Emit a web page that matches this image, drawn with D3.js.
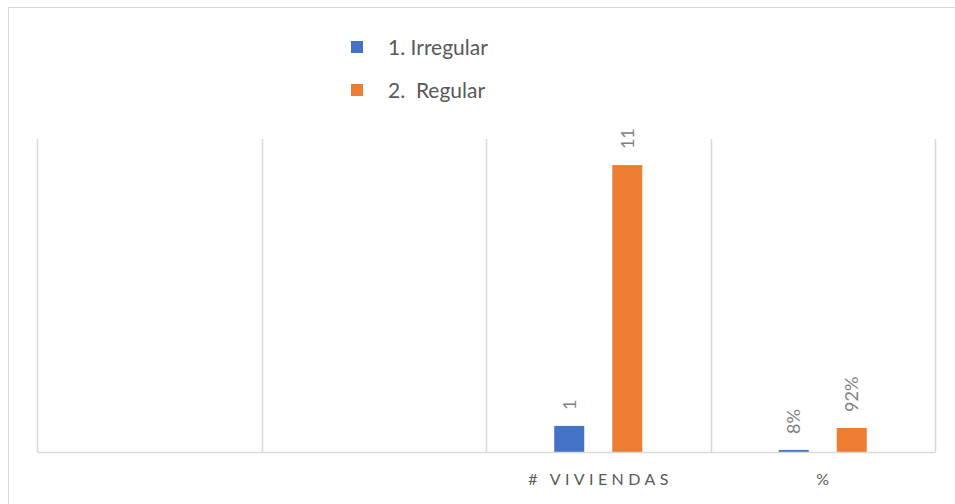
<!DOCTYPE html>
<html>
<head>
<meta charset="utf-8">
<script src="https://cdn.jsdelivr.net/npm/d3@7"></script>
<style>
  html, body { margin: 0; padding: 0; background: #fff; }
  svg { display: block; }
  text { font-family: Lato, "Open Sans", "Liberation Sans", sans-serif; }
</style>
</head>
<body>
<svg id="chart" width="955" height="504"></svg>
<script>
// Categories along the horizontal axis (the first two slots are blank)
const categories = ["", "", "# VIVIENDAS", "%"];
// Series names and colours
const seriesNames = ["1. Irregular", "2.  Regular"];
const seriesColors = ["#4472C4", "#ED7D31"];
// Values per category for each series (null = no bar)
const irregularValues = [null, null, 1, 0.08];
const regularValues = [null, null, 11, 0.92];
// Value axis extent
const yMax = 12;

const seriesValues = [irregularValues, regularValues];

const svg = d3.select("#chart");

// outer chart frame
svg.append("rect")
  .attr("x", 8.5).attr("y", 7.5)
  .attr("width", 980).attr("height", 520)
  .attr("fill", "#fff")
  .attr("stroke", "#d9d9d9").attr("stroke-width", 1);

const plot = { left: 37, right: 935, top: 139, bottom: 452 };

const x = d3.scaleBand()
  .domain(d3.range(categories.length))
  .range([plot.left, plot.right])
  .padding(0);

const groupWidth = 88;
const xSeries = d3.scaleBand()
  .domain(d3.range(seriesNames.length))
  .range([-groupWidth / 2, groupWidth / 2])
  .paddingInner(0.483)
  .paddingOuter(0);

const y = d3.scaleLinear()
  .domain([0, yMax])
  .range([plot.bottom, plot.top]);

// vertical category dividers
const dividers = d3.range(categories.length + 1).map(i =>
  i < categories.length ? x(i) : x(categories.length - 1) + x.bandwidth());
svg.append("g").selectAll("line")
  .data(dividers)
  .join("line")
  .attr("x1", d => Math.round(d) + 0.5).attr("x2", d => Math.round(d) + 0.5)
  .attr("y1", y(yMax)).attr("y2", y(0))
  .attr("stroke", "#d9d9d9").attr("stroke-width", 1.5);

// bars
const barData = [];
seriesValues.forEach((vals, s) => {
  vals.forEach((v, c) => {
    if (v != null) barData.push({ s, c, v });
  });
});

const barX = d => x(d.c) + x.bandwidth() / 2 + xSeries(d.s);

svg.append("g").selectAll("rect")
  .data(barData)
  .join("rect")
  .attr("x", barX)
  .attr("width", xSeries.bandwidth())
  .attr("y", d => y(d.v))
  .attr("height", d => y(0) - y(d.v))
  .attr("fill", d => seriesColors[d.s]);

// baseline (category axis)
const xAxis = d3.axisBottom(x)
  .tickSize(0)
  .tickPadding(22)
  .tickFormat(i => categories[i]);

const axisG = svg.append("g")
  .attr("transform", `translate(0,${y(0)})`)
  .call(xAxis);
axisG.select(".domain")
  .attr("stroke", "#d9d9d9").attr("stroke-width", 1.5);
axisG.selectAll("text")
  .attr("fill", "#595959")
  .attr("font-size", 16)
  .style("letter-spacing", d => categories[d].length > 1 ? "4.4px" : "0px")
  .attr("dx", d => categories[d].length > 1 ? "2.2px" : "0px");

// data labels, rotated
const labelSize = 18;
const fmtLabel = d => categories[d.c] === "%" ? d3.format(".0%")(d.v) : d3.format("d")(d.v);
svg.append("g").selectAll("text")
  .data(barData)
  .join("text")
  .attr("transform", d => `translate(${barX(d) + xSeries.bandwidth() / 2 + labelSize * 0.36},${y(d.v) - 16}) rotate(-90)`)
  .attr("text-anchor", "start")
  .attr("fill", "#7f7f7f")
  .attr("font-size", labelSize)
  .text(fmtLabel);

// legend
const legend = svg.append("g");
const legendItems = legend.selectAll("g")
  .data(seriesNames)
  .join("g")
  .attr("transform", (d, i) => `translate(351,${41 + i * 43})`);
legendItems.append("rect")
  .attr("width", 12).attr("height", 12)
  .attr("fill", (d, i) => seriesColors[i]);
legendItems.append("text")
  .attr("x", 37).attr("y", 14)
  .attr("fill", "#595959")
  .attr("font-size", 21)
  .style("white-space", "pre")
  .attr("xml:space", "preserve")
  .text(d => d);
</script>
</body>
</html>
